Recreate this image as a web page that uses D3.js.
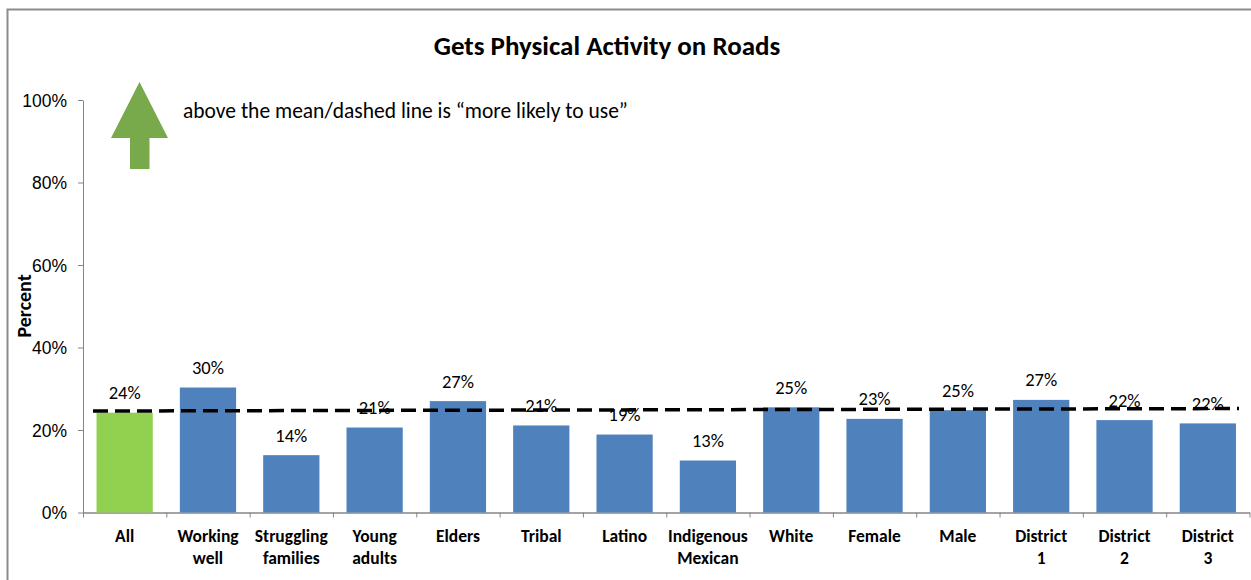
<!DOCTYPE html>
<head>
<meta charset="utf-8">
<title>Gets Physical Activity on Roads</title>
<script src="https://d3js.org/d3.v7.min.js"></script>
<style>
  body { margin: 0; background: #fff; }
  svg { font-family: Calibri, Carlito, Lato, "Open Sans", sans-serif; }
</style>
</head>
<body>
<div id="chart"></div>
<script>

  // chart values
  var categories = [["All"], ["Working", "well"], ["Struggling", "families"], ["Young", "adults"],
    ["Elders"], ["Tribal"], ["Latino"], ["Indigenous", "Mexican"], ["White"], ["Female"],
    ["Male"], ["District", "1"], ["District", "2"], ["District", "3"]];
  var values = [24.2, 30.3, 13.9, 20.6, 27.0, 21.1, 18.9, 12.6, 25.5, 22.7, 24.8, 27.3, 22.4, 21.6];
  var labels = ["24%", "30%", "14%", "21%", "27%", "21%", "19%", "13%", "25%", "23%", "25%", "27%", "22%", "22%"];
  var meanLine = [24.6, 25.2];   // dashed line, left end and right end
  var yTicks = [0, 20, 40, 60, 80, 100];

  var W = 1251, H = 580;
  var margin = {top: 100, left: 83, right: 2, bottom: 68};

  var svg = d3.select("#chart").append("svg")
      .attr("width", W).attr("height", H);

  // outer frame (top and left edges visible)
  svg.append("path")
    .attr("d", "M7.5,580 L7.5,9.5 L1251,9.5")
    .attr("fill", "none")
    .attr("stroke", "#8c8c8c")
    .attr("stroke-width", 2);

  var x = d3.scaleBand()
    .domain(d3.range(categories.length))
    .range([margin.left, 1249.5])
    .paddingInner(0.325)
    .paddingOuter(0.1625);

  var y = d3.scaleLinear()
    .domain([0, 100])
    .range([512.5, 100]);

  // y axis
  var yAxis = svg.append("g")
    .attr("transform", "translate(" + margin.left + ",0)")
    .call(d3.axisLeft(y).tickValues(yTicks).tickFormat(function(d) { return d + "%"; }).tickSize(5).tickSizeOuter(0));
  yAxis.select(".domain").attr("stroke", "#868686");
  yAxis.selectAll(".tick line").attr("stroke", "#868686");
  yAxis.selectAll("text")
    .attr("font-size", 17.5).attr("fill", "#000")
    .attr("x", -16).attr("dy", "0.35em");

  // x axis with boundary ticks
  var step = x.step();
  var xb = d3.scaleLinear().domain([0, categories.length]).range([margin.left, margin.left + step * categories.length]);
  var xAxis = svg.append("g")
    .attr("transform", "translate(0," + y(0) + ")")
    .call(d3.axisBottom(xb).tickValues(d3.range(categories.length + 1)).tickFormat("").tickSize(5).tickSizeOuter(0));
  xAxis.select(".domain").attr("stroke", "#868686").attr("stroke-width", 1.5);
  xAxis.selectAll(".tick line").attr("stroke", "#868686");

  // bars
  svg.append("g").selectAll("rect")
    .data(values)
    .enter().append("rect")
      .attr("x", function(d, i) { return x(i); })
      .attr("width", x.bandwidth())
      .attr("y", function(d) { return y(d); })
      .attr("height", function(d) { return y(0) - y(d); })
      .attr("fill", function(d, i) { return i === 0 ? "#92D050" : "#4F81BD"; });

  // value labels
  svg.append("g").selectAll("text")
    .data(values)
    .enter().append("text")
      .attr("x", function(d, i) { return x(i) + x.bandwidth() / 2; })
      .attr("y", function(d) { return y(d) - 20; })
      .attr("dy", "0.35em")
      .attr("text-anchor", "middle")
      .attr("font-size", 18.5)
      .text(function(d, i) { return labels[i]; });

  // mean dashed line
  svg.append("line")
    .attr("x1", 93).attr("x2", 1239)
    .attr("y1", y(meanLine[0])).attr("y2", y(meanLine[1]))
    .attr("stroke", "#000")
    .attr("stroke-width", 3.5)
    .attr("stroke-dasharray", "15,7");

  // category labels
  var cat = svg.append("g").selectAll("text")
    .data(categories)
    .enter().append("text")
      .attr("x", function(d, i) { return x(i) + x.bandwidth() / 2; })
      .attr("y", 536)
      .attr("text-anchor", "middle")
      .attr("font-size", 17.5)
      .attr("font-weight", "bold");
  cat.each(function(d) {
    var t = d3.select(this);
    d.forEach(function(line, j) {
      t.append("tspan")
        .attr("x", t.attr("x"))
        .attr("dy", j === 0 ? "0.35em" : 22)
        .text(line);
    });
  });

  // y axis title
  svg.append("text")
    .attr("transform", "translate(24,306) rotate(-90)")
    .attr("text-anchor", "middle")
    .attr("dy", "0.35em")
    .attr("font-size", 20)
    .attr("font-weight", "bold")
    .text("Percent");

  // title
  svg.append("text")
    .attr("x", 607).attr("y", 46)
    .attr("dy", "0.35em")
    .attr("text-anchor", "middle")
    .attr("font-size", 27)
    .attr("font-weight", "bold")
    .text("Gets Physical Activity on Roads");

  // green arrow annotation
  svg.append("path")
    .attr("d", "M139.5,82 L168,138 L149.5,138 L149.5,169 L130,169 L130,138 L111,138 Z")
    .attr("fill", "#78A94A");

  svg.append("text")
    .attr("x", 183).attr("y", 110)
    .attr("dy", "0.35em")
    .attr("font-size", 21.5)
    .text("above the mean/dashed line is \u201cmore likely to use\u201d");

</script>
</body>
